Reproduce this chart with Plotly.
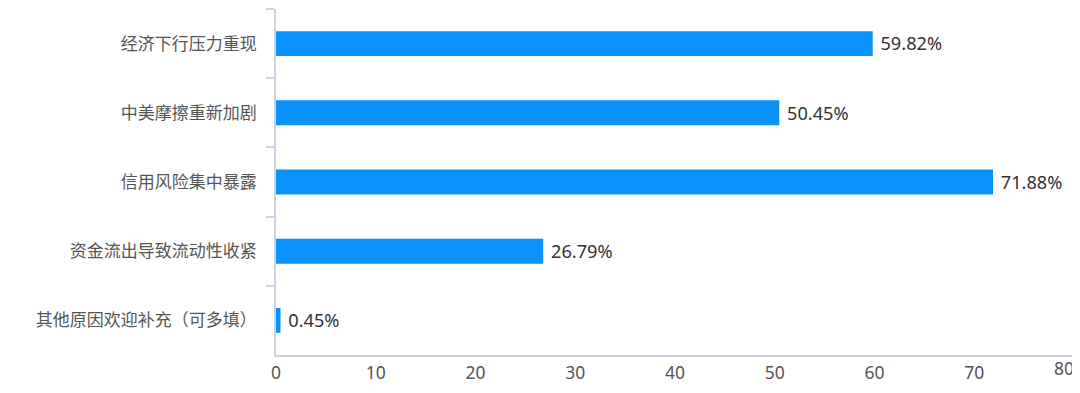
import plotly.graph_objects as go

categories = ["经济下行压力重现", "中美摩擦重新加剧", "信用风险集中暴露", "资金流出导致流动性收紧", "其他原因欢迎补充（可多填）"]
values = [59.82, 50.45, 71.88, 26.79, 0.45]
labels = ["59.82%", "50.45%", "71.88%", "26.79%", "0.45%"]
x_ticks = [0, 10, 20, 30, 40, 50, 60, 70, 80]

axis_color = "#c9d4e2"
cjk_font = "Noto Sans CJK SC, Microsoft YaHei, sans-serif"
num_font = "Noto Sans, Noto Sans CJK SC, sans-serif"
tick_font = dict(size=17.5, color="#555555", family=num_font)

fig = go.Figure(go.Bar(
    x=values, y=categories, orientation="h",
    marker=dict(color="#0a92fb", line=dict(width=0)),
    text=["\u00a0" + t for t in labels], textposition="outside",
    textfont=dict(size=19, color="#333333", family=num_font),
    cliponaxis=False,
))
# invisible helper trace so the overlay axis (carrying the last tick label) is drawn
fig.add_trace(go.Scatter(
    x=x_ticks[-1:], y=categories[:1], xaxis="x2", yaxis="y",
    mode="markers", marker=dict(opacity=0, size=1),
    hoverinfo="skip", showlegend=False,
))

# page body has an 8px default margin, so the figure is 8px smaller
fig.update_layout(
    width=1072, height=385,
    margin=dict(l=268, r=6, t=1, b=38),
    plot_bgcolor="white", paper_bgcolor="white",
    bargap=0.64,
    showlegend=False,
    font=dict(family=cjk_font),
    xaxis=dict(range=[x_ticks[0], x_ticks[-1]], tickvals=x_ticks[:-1],
               ticktext=[str(v) for v in x_ticks[:-1]],
               showgrid=False, zeroline=False, automargin=False,
               showline=True, linecolor=axis_color, linewidth=1.5, ticks="",
               tickfont=tick_font, ticklabelstandoff=1),
    # last tick label shifted left so it stays inside the page
    xaxis2=dict(overlaying="x", anchor="y", side="bottom",
                range=[x_ticks[0], x_ticks[-1]], tickvals=x_ticks[-1:],
                ticktext=[str(x_ticks[-1])], ticklabelshift=-10,
                ticklabeloverflow="allow",
                showgrid=False, zeroline=False, automargin=False, showline=False,
                ticks="", tickfont=tick_font, ticklabelstandoff=1),
    yaxis=dict(autorange="reversed", showgrid=False, zeroline=False, automargin=False,
               showline=True, linecolor=axis_color, linewidth=1.5,
               ticks="outside", ticklen=8, tickcolor=axis_color, tickwidth=1.5,
               tickson="boundaries", ticklabelstandoff=14,
               tickfont=dict(size=17, color="#555555", family=cjk_font)),
)

fig.write_html("out.html")
